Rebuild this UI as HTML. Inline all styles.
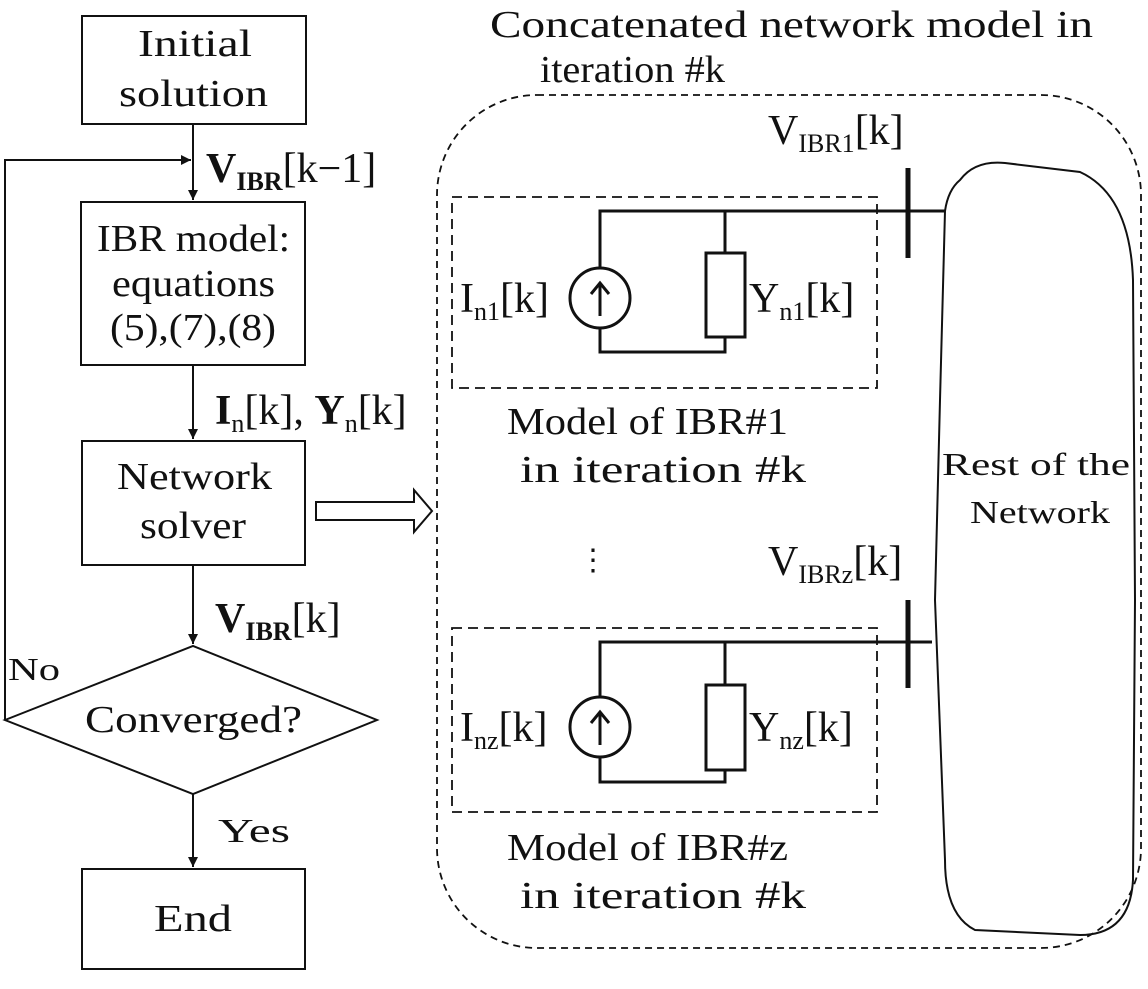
<!DOCTYPE html>
<html><head><style>
body{margin:0;background:#fff}
svg text{font-family:"Liberation Serif",serif;fill:#111}
</style></head><body>
<svg width="1148" height="984" viewBox="0 0 1148 984" xmlns="http://www.w3.org/2000/svg">
<defs><marker id="a" markerWidth="12" markerHeight="12" refX="10" refY="5" orient="auto" markerUnits="userSpaceOnUse"><path d="M0,0 L10,5 L0,10 Z" fill="#111"/></marker></defs>
<g stroke="#111" stroke-width="2" fill="none">
<rect x="82" y="16" width="224" height="108"/>
<rect x="81" y="202" width="224" height="163"/>
<rect x="82" y="441" width="223" height="124"/>
<polygon points="5,720 193,646 377,720 193,794"/>
<rect x="82" y="869" width="223" height="100"/>
<line x1="193" y1="124" x2="193" y2="200" marker-end="url(#a)"/>
<line x1="193" y1="365" x2="193" y2="439" marker-end="url(#a)"/>
<line x1="193" y1="565" x2="193" y2="644" marker-end="url(#a)"/>
<line x1="193" y1="794" x2="193" y2="867" marker-end="url(#a)"/>
<polyline points="5,720 5,160 191,160" marker-end="url(#a)"/>
<polygon points="316,502 414,502 414,490 432,511 414,532 414,520 316,520"/>
<rect x="437" y="95" width="704" height="853" rx="100" stroke-dasharray="7,5" stroke-width="1.8"/>
<rect x="452" y="197" width="425" height="191" stroke-dasharray="10,6" stroke-width="1.8"/>
<rect x="452" y="628" width="425" height="184" stroke-dasharray="10,6" stroke-width="1.8"/>
<path d="M960,180 Q975,160 1005,163 L1080,172 Q1130,195 1133,280 L1135,600 L1133,880 Q1130,935 1080,935 L975,930 Q945,915 945,860 L935,600 L940,400 L945,211 Q948,190 960,180 Z" stroke-width="2"/>
<g stroke-width="3">
<polyline points="945,211 600,211 600,268"/><line x1="725" y1="211" x2="725" y2="253"/>
<circle cx="600" cy="298" r="30"/><line x1="600" y1="284" x2="600" y2="316"/><polyline points="591,294 600,283 609,294"/>
<rect x="706" y="253" width="39" height="84"/>
<polyline points="600,328 600,352 725,352 725,337"/>
<line x1="908" y1="168" x2="908" y2="258" stroke-width="5"/>
<polyline points="932,642 600,642 600,697"/><line x1="725" y1="642" x2="725" y2="685"/>
<circle cx="600" cy="727" r="30"/><line x1="600" y1="713" x2="600" y2="745"/><polyline points="591,723 600,712 609,723"/>
<rect x="706" y="685" width="39" height="85"/>
<polyline points="600,757 600,782 725,782 725,770"/>
<line x1="908" y1="600" x2="908" y2="688" stroke-width="5"/>
</g>
</g>
<g font-size="38" lengthAdjust="spacingAndGlyphs">
<text x="138" y="56" textLength="114" lengthAdjust="spacingAndGlyphs">Initial</text>
<text x="119" y="106" textLength="149" lengthAdjust="spacingAndGlyphs">solution</text>
<text x="97" y="251" textLength="193" lengthAdjust="spacingAndGlyphs">IBR model:</text>
<text x="112" y="296" textLength="163" lengthAdjust="spacingAndGlyphs">equations</text>
<text x="110" y="340" textLength="166" lengthAdjust="spacingAndGlyphs">(5),(7),(8)</text>
<text x="117" y="489" textLength="155" lengthAdjust="spacingAndGlyphs">Network</text>
<text x="140" y="538" textLength="106" lengthAdjust="spacingAndGlyphs">solver</text>
<text x="85" y="732" textLength="217" lengthAdjust="spacingAndGlyphs">Converged?</text>
<text x="154" y="931" textLength="78" lengthAdjust="spacingAndGlyphs">End</text>
<text x="490" y="37" textLength="603" lengthAdjust="spacingAndGlyphs">Concatenated network model in</text>
<text x="540" y="82" textLength="185" lengthAdjust="spacingAndGlyphs">iteration #k</text>
<text x="507" y="434" textLength="281" lengthAdjust="spacingAndGlyphs">Model of IBR#1</text>
<text x="520" y="482" textLength="286" lengthAdjust="spacingAndGlyphs">in iteration #k</text>
<text x="507" y="860" textLength="281" lengthAdjust="spacingAndGlyphs">Model of IBR#z</text>
<text x="520" y="908" textLength="286" lengthAdjust="spacingAndGlyphs">in iteration #k</text>
<text x="593" y="570" font-size="30" text-anchor="middle">⋮</text>
<text x="942" y="475" font-size="32" textLength="188" lengthAdjust="spacingAndGlyphs">Rest of the</text>
<text x="970" y="523" font-size="32" textLength="140" lengthAdjust="spacingAndGlyphs">Network</text>
<text x="8" y="680" font-size="32" textLength="52" lengthAdjust="spacingAndGlyphs">No</text>
<text x="218" y="842" font-size="34" textLength="72" lengthAdjust="spacingAndGlyphs">Yes</text>
</g>
<g font-size="42">
<text x="206" y="182" font-weight="bold">V<tspan font-size="26" dy="8">IBR</tspan><tspan font-weight="normal" dy="-8">[k−1]</tspan></text>
<text x="215" y="424" font-weight="bold">I<tspan font-size="26" dy="8" font-weight="normal">n</tspan><tspan font-weight="normal" dy="-8">[k], </tspan>Y<tspan font-size="26" dy="8" font-weight="normal">n</tspan><tspan font-weight="normal" dy="-8">[k]</tspan></text>
<text x="215" y="632" font-weight="bold">V<tspan font-size="26" dy="8">IBR</tspan><tspan font-weight="normal" dy="-8">[k]</tspan></text>
<text x="768" y="144">V<tspan font-size="26" dy="8">IBR1</tspan><tspan dy="-8">[k]</tspan></text>
<text x="768" y="575">V<tspan font-size="26" dy="8">IBRz</tspan><tspan dy="-8">[k]</tspan></text>
<text x="460" y="312">I<tspan font-size="26" dy="8">n1</tspan><tspan dy="-8">[k]</tspan></text>
<text x="749" y="312">Y<tspan font-size="26" dy="8">n1</tspan><tspan dy="-8">[k]</tspan></text>
<text x="460" y="741">I<tspan font-size="26" dy="8">nz</tspan><tspan dy="-8">[k]</tspan></text>
<text x="749" y="741">Y<tspan font-size="26" dy="8">nz</tspan><tspan dy="-8">[k]</tspan></text>
</g>
</svg>
</body></html>
